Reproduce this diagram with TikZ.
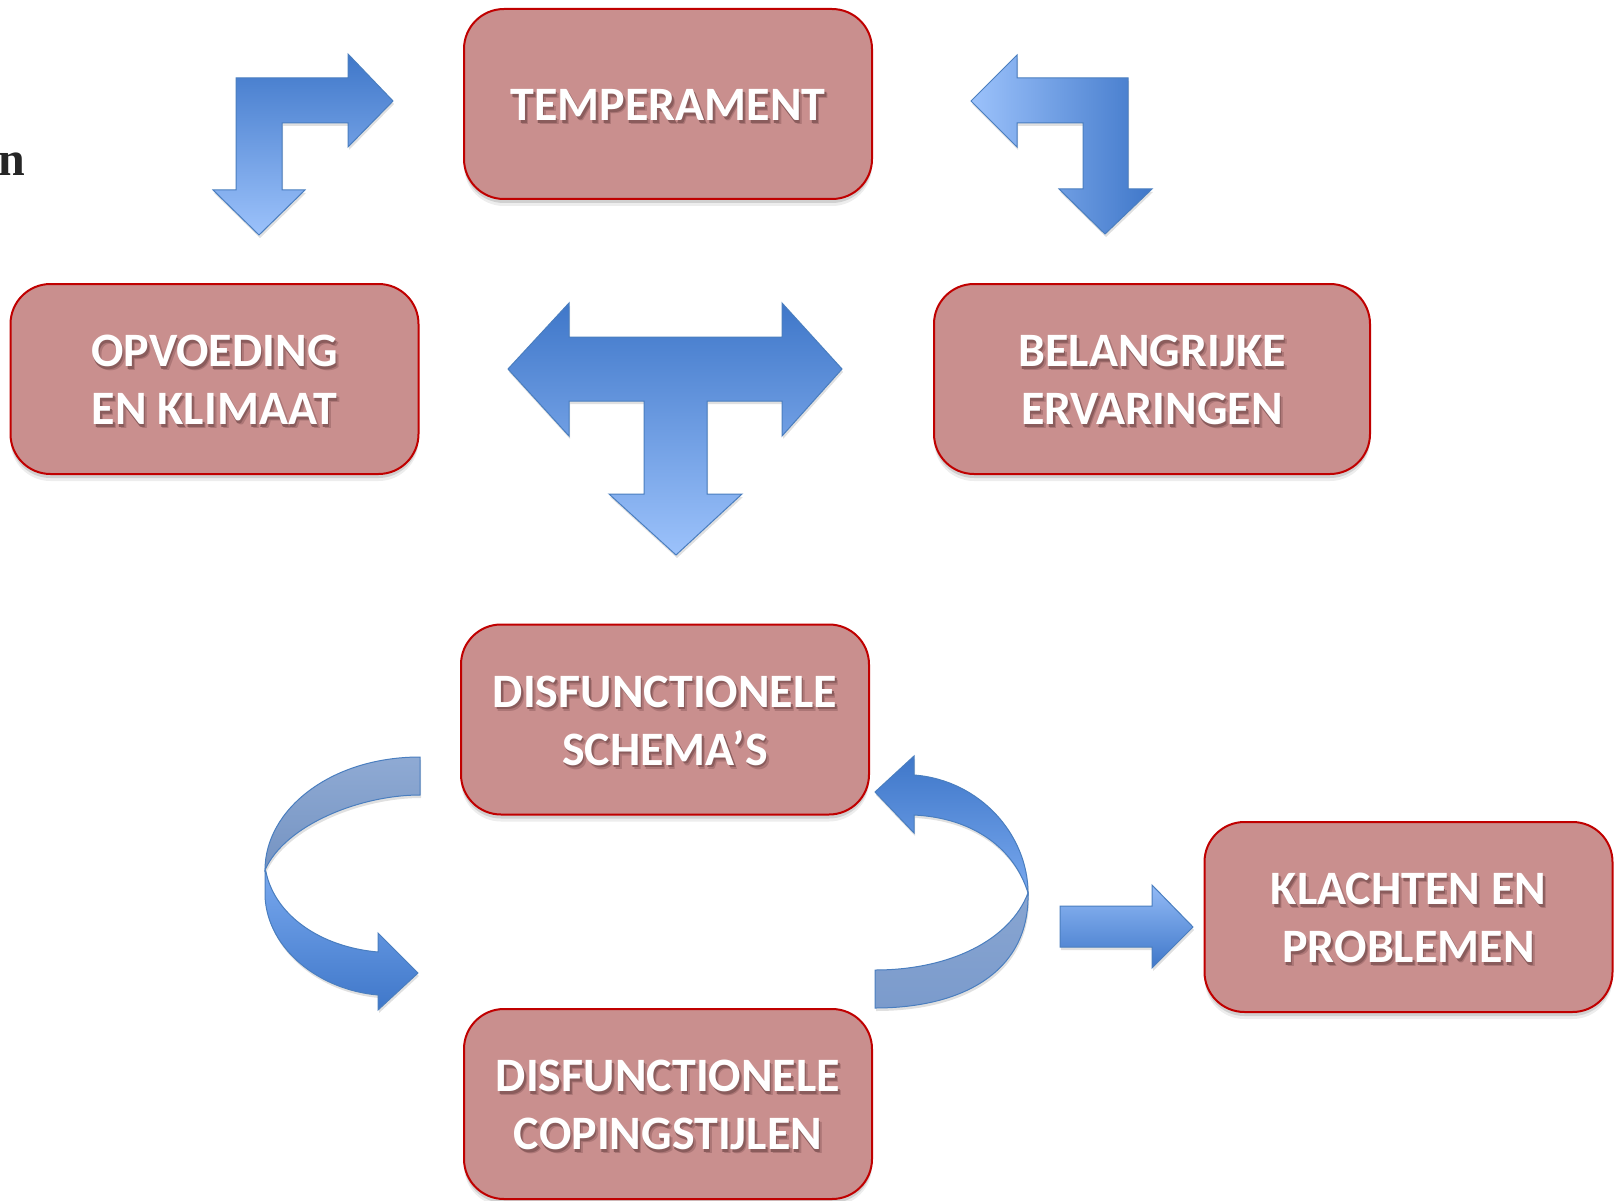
\documentclass[tikz,border=0pt]{standalone}
\usepackage{fontspec}
\setmainfont{Carlito}
\newfontfamily\serifn{Liberation Serif}
\usetikzlibrary{shadows}
\definecolor{boxfill}{HTML}{C98F8E}
\definecolor{boxline}{HTML}{C00000}
\definecolor{txtsh}{HTML}{8A5C5C}
\definecolor{txtshb}{HTML}{AC7676}
\definecolor{adark}{HTML}{3F77C9}
\definecolor{alight}{HTML}{9CC2FB}
\definecolor{amid}{HTML}{78A8EE}
\definecolor{aline}{HTML}{4A7EBF}
\definecolor{aback}{HTML}{7B9BCC}
\newcommand\shd[1]{\rlap{\kern3pt\raisebox{-4pt}{\textcolor{txtshb}{#1}}}\rlap{\kern1.5pt\raisebox{-2.5pt}{\textcolor{txtsh}{#1}}}#1}
\begin{document}
\begin{tikzpicture}[x=1pt,y=-1pt,
  box/.style={draw=boxline, line width=2pt, fill=boxfill, rounded corners=40pt,
    minimum width=#1, minimum height=190pt, inner sep=0pt,
    drop shadow={shadow xshift=0pt,shadow yshift=-4pt,opacity=0.12,fill=black},
    drop shadow={shadow xshift=0pt,shadow yshift=-7pt,opacity=0.07,fill=black}},
  box/.default=408pt,
  lbl/.style={inner sep=0pt, align=center, text=white,
    font=\fontsize{48}{58}\selectfont\bfseries},
  blockarrow/.style={draw=aline, line width=1pt, line join=miter,
    drop shadow={shadow xshift=1pt,shadow yshift=-3pt,opacity=0.12,fill=black}},
]
\useasboundingbox (0,0) rectangle (1622,1201);

% stray letter
\node[font=\serifn\bfseries\fontsize{48}{58}\selectfont, anchor=base east, inner sep=0pt, text=black!85] (nletter) at (25,176) {n};

% boxes
\node[box] (temp) at (668,104) {};
\node[box] (opv) at (214.5,379) {};
\node[box=436pt] (bel) at (1152,379) {};
\node[box] (schema) at (665,719.5) {};
\node[box] (coping) at (668,1104) {};
\node[box] (klacht) at (1408.5,917) {};

% labels
\node[lbl] (tempT) at ([yshift=-3pt]temp.center) {\shd{TEMPERAMENT}};
\node[lbl] (opvT) at ([yshift=-3pt]opv.center) {\shd{OPVOEDING}\\\shd{EN KLIMAAT}};
\node[lbl] (belT) at ([yshift=-3pt]bel.center) {\shd{BELANGRIJKE}\\\shd{ERVARINGEN}};
\node[lbl] (schemaT) at ([yshift=-3pt]schema.center) {\shd{DISFUNCTIONELE}\\\shd{SCHEMA'S}};
\node[lbl] (copingT) at ([yshift=-3pt]coping.center) {\shd{DISFUNCTIONELE}\\\shd{COPINGSTIJLEN}};
\node[lbl] (klachtT) at ([yshift=-3pt]klacht.center) {\shd{KLACHTEN EN}\\\shd{PROBLEMEN}};

% top-left bent arrow
\shade[blockarrow, top color=adark, bottom color=alight]
  (236,78) -- (348,78) -- (348,54) -- (393,101) -- (348,147) -- (348,123)
  -- (282,123) -- (282,190) -- (305,190) -- (259,235) -- (213,190) -- (236,190) -- cycle;

% top-right bent arrow
\shade[blockarrow, left color=alight, right color=adark]
  (971,101) -- (1017,55) -- (1017,78) -- (1128,78) -- (1128,189) -- (1152,189)
  -- (1105,234) -- (1059,189) -- (1083,189) -- (1083,123) -- (1017,123) -- (1017,147) -- cycle;

% T arrow
\shade[blockarrow, top color=adark, bottom color=alight]
  (508,369) -- (569,303) -- (569,337) -- (782,337) -- (782,303) -- (842,369)
  -- (782,436) -- (782,401) -- (707,401) -- (707,494) -- (742,494) -- (676,555)
  -- (609,494) -- (644,494) -- (644,401) -- (569,401) -- (569,436) -- cycle;

% left curved arrow: back face
\shade[blockarrow, top color=aback!85!white, bottom color=aback!95!black]
  (420,757) .. controls (330,757) and (265,810) .. (265,870)
  .. controls (285,825) and (360,795) .. (420,795) -- cycle;
% left curved arrow: front face
\shade[blockarrow, top color=amid, bottom color=adark]
  (265,870) -- (265,897) .. controls (268,950) and (320,990) .. (378,995)
  -- (378,1010) -- (418,973) -- (378,933) -- (378,952)
  .. controls (320,947) and (275,915) .. (266,872) -- cycle;

% right curved arrow: back face
\shade[blockarrow, top color=aback!90!white, bottom color=aback]
  (1028,893) .. controls (1030,970) and (965,1008) .. (875,1008) -- (875,970)
  .. controls (950,970) and (1010,940) .. (1028,893) -- cycle;
% right curved arrow: front face
\shade[blockarrow, top color=adark, bottom color=amid]
  (875,792) -- (914,756) -- (914,775) .. controls (980,780) and (1028,835) .. (1028,893)
  .. controls (1015,850) and (975,818) .. (914,815) -- (914,833) -- cycle;

% straight arrow to klachten
\shade[blockarrow, top color=alight!90!adark, bottom color=adark]
  (1060,906) -- (1152,906) -- (1152,885) -- (1193,927) -- (1152,968) -- (1152,947) -- (1060,947) -- cycle;
\end{tikzpicture}
\end{document}
